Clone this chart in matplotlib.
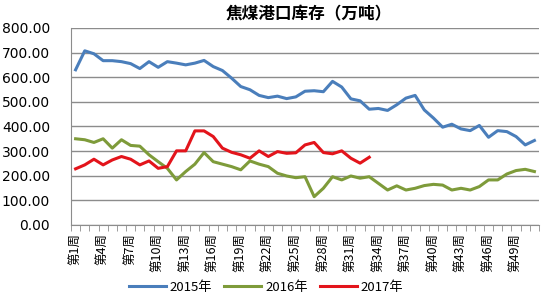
import matplotlib
matplotlib.use("Agg")
from matplotlib import pyplot as plt

plt.rcParams['font.family'] = ['Noto Sans CJK SC', 'DejaVu Sans']

# 周次
weeks = ["第%d周" % i for i in range(1, 52)]

# 焦煤港口库存（万吨）
y2015 = [630, 707, 695, 667, 667, 663, 655, 635, 663, 640,
         663, 657, 650, 657, 668, 643, 627, 596, 562, 549,
         526, 517, 523, 513, 520, 543, 545, 541, 583, 560,
         512, 504, 470, 473, 465, 488, 515, 526, 467, 434,
         397, 409, 390, 383, 404, 356, 383, 379, 359, 325, 343]
y2016 = [350, 346, 335, 350, 312, 346, 323, 320, 285, 257,
         230, 183, 217, 247, 294, 257, 247, 237, 224, 260,
         247, 237, 210, 199, 192, 196, 115, 149, 196, 183,
         199, 190, 196, 169, 142, 159, 142, 149, 160, 165,
         162, 142, 149, 142, 156, 183, 183, 207, 221, 226, 217]
y2017 = [228, 244, 267, 244, 264, 278, 267, 244, 260, 230,
         237, 301, 301, 382, 382, 359, 312, 295, 285, 271,
         301, 278, 298, 291, 293, 325, 335, 294, 289, 301,
         271, 251, 275]

series = [("2015年", y2015, "#4A7EBB"),
          ("2016年", y2016, "#7E9B3A"),
          ("2017年", y2017, "#E3141B")]

fig = plt.figure(figsize=(5.5, 3.0), dpi=100)
ax = fig.add_axes([71 / 550, 0.25, 468 / 550, 0.657])

for name, vals, col in series:
    ax.plot(range(len(vals)), vals, color=col, lw=2.2, label=name,
            solid_joinstyle='round')

ax.set_xlim(-0.5, len(weeks) - 0.5)
ax.set_ylim(0, 800)
ax.set_yticks(range(0, 801, 100))
ax.set_yticklabels(["%.2f" % v for v in range(0, 801, 100)],
                   family='DejaVu Sans', fontsize=10)
ax.yaxis.grid(True, color='#8c8c8c', lw=1)
ax.set_axisbelow(True)

ax.set_xticks(range(0, len(weeks), 3))
ax.set_xticklabels(weeks[::3], rotation=90, fontsize=9)
ax.set_xticks([i - 0.5 for i in range(len(weeks) + 1)], minor=True)
ax.tick_params(axis='x', which='major', length=0, pad=6)
ax.tick_params(axis='x', which='minor', length=4, color='#8c8c8c',
               direction='out')
ax.tick_params(axis='y', length=0, pad=15)

for s in ['top', 'right']:
    ax.spines[s].set_visible(False)
for s in ['left', 'bottom']:
    ax.spines[s].set_color('#8c8c8c')

fig.text(309 / 550, 1 - 14 / 300, "焦煤港口库存（万吨）", ha='center',
         va='center', fontsize=12, fontweight='bold')

fig.legend(loc='center', bbox_to_anchor=(266 / 550, 1 - 287 / 300),
           ncol=3, frameon=False, fontsize=9.5, handlelength=2.8,
           handletextpad=0.3, columnspacing=0.9)

fig.savefig("out.png", dpi=100)
